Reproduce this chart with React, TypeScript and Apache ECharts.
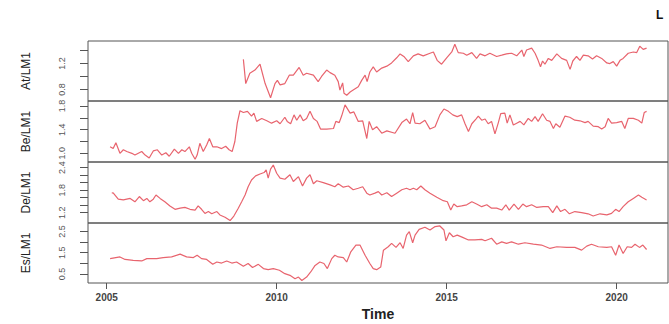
import React, { useEffect, useRef } from "react";
import * as echarts from "echarts";

// ---- data (decimal year, value) ----
const atData: number[][] = [
  [2009.02,1.265],[2009.09,0.89],[2009.21,1.05],[2009.36,1.10],[2009.51,1.19],[2009.66,0.89],[2009.82,0.67],[2009.95,0.89],
  [2010.02,0.94],[2010.10,0.87],[2010.24,0.89],[2010.37,1.02],[2010.49,1.02],[2010.66,1.14],[2010.78,1.02],[2010.88,1.05],
  [2011.08,1.02],[2011.22,0.92],[2011.32,1.00],[2011.47,1.10],[2011.57,1.06],[2011.71,1.02],[2011.81,0.92],[2011.86,0.79],
  [2011.94,0.90],[2011.98,0.74],[2012.06,0.71],[2012.16,0.76],[2012.25,0.79],[2012.40,0.84],[2012.50,0.94],[2012.60,1.02],
  [2012.66,0.92],[2012.74,1.07],[2012.84,1.15],[2012.94,1.07],[2013.09,1.13],[2013.24,1.16],[2013.38,1.21],[2013.53,1.29],
  [2013.63,1.35],[2013.74,1.31],[2013.87,1.23],[2014.02,1.32],[2014.16,1.35],[2014.31,1.32],[2014.51,1.36],[2014.61,1.38],
  [2014.72,1.25],[2014.85,1.19],[2015.00,1.29],[2015.15,1.38],[2015.24,1.50],[2015.34,1.37],[2015.49,1.36],[2015.59,1.33],
  [2015.74,1.37],[2015.88,1.28],[2015.98,1.35],[2016.13,1.32],[2016.27,1.36],[2016.47,1.31],[2016.62,1.33],[2016.76,1.35],
  [2016.91,1.36],[2017.06,1.32],[2017.21,1.41],[2017.27,1.31],[2017.35,1.41],[2017.50,1.44],[2017.60,1.36],[2017.69,1.25],
  [2017.76,1.15],[2017.82,1.24],[2017.89,1.19],[2017.99,1.28],[2018.09,1.25],[2018.24,1.35],[2018.38,1.28],[2018.53,1.25],
  [2018.63,1.11],[2018.71,1.24],[2018.82,1.31],[2018.92,1.25],[2019.02,1.33],[2019.16,1.32],[2019.29,1.27],[2019.41,1.32],
  [2019.56,1.28],[2019.71,1.21],[2019.80,1.20],[2019.90,1.23],[2020.00,1.16],[2020.10,1.25],[2020.19,1.28],[2020.34,1.36],
  [2020.49,1.38],[2020.59,1.37],[2020.68,1.47],[2020.78,1.42],[2020.88,1.44],
];

const beData: number[][] = [
  [2005.10,1.11],[2005.19,1.08],[2005.27,1.18],[2005.39,1.00],[2005.49,1.06],[2005.59,1.03],[2005.74,1.00],[2005.83,0.97],
  [2005.93,1.00],[2006.03,1.03],[2006.13,0.97],[2006.25,0.92],[2006.37,1.04],[2006.49,1.06],[2006.62,0.97],[2006.74,1.01],
  [2006.84,0.95],[2006.99,1.07],[2007.11,1.00],[2007.21,1.06],[2007.30,1.03],[2007.43,1.11],[2007.50,1.00],[2007.60,0.90],
  [2007.66,0.97],[2007.74,1.17],[2007.84,1.03],[2007.94,1.14],[2008.02,1.25],[2008.12,1.11],[2008.24,1.11],[2008.38,1.08],
  [2008.50,1.12],[2008.60,1.06],[2008.69,1.03],[2008.77,1.20],[2008.84,1.51],[2008.92,1.72],[2009.02,1.69],[2009.14,1.71],
  [2009.26,1.63],[2009.33,1.68],[2009.41,1.54],[2009.56,1.59],[2009.71,1.55],[2009.85,1.51],[2010.00,1.55],[2010.10,1.50],
  [2010.24,1.61],[2010.31,1.54],[2010.41,1.50],[2010.51,1.65],[2010.59,1.56],[2010.69,1.65],[2010.78,1.55],[2010.88,1.59],
  [2010.98,1.71],[2011.08,1.59],[2011.19,1.54],[2011.29,1.41],[2011.47,1.41],[2011.67,1.42],[2011.74,1.54],[2011.84,1.52],
  [2011.91,1.63],[2012.01,1.82],[2012.16,1.68],[2012.27,1.70],[2012.40,1.54],[2012.53,1.55],[2012.65,1.25],[2012.72,1.54],
  [2012.82,1.40],[2012.94,1.45],[2013.09,1.34],[2013.24,1.38],[2013.48,1.34],[2013.68,1.52],[2013.82,1.58],[2013.92,1.50],
  [2014.00,1.69],[2014.07,1.51],[2014.21,1.50],[2014.36,1.56],[2014.51,1.41],[2014.66,1.45],[2014.80,1.65],[2014.92,1.75],
  [2015.05,1.71],[2015.18,1.65],[2015.31,1.62],[2015.44,1.65],[2015.54,1.50],[2015.64,1.37],[2015.74,1.50],[2015.86,1.58],
  [2015.93,1.63],[2016.03,1.56],[2016.13,1.58],[2016.22,1.50],[2016.32,1.54],[2016.42,1.33],[2016.52,1.52],[2016.59,1.67],
  [2016.71,1.68],[2016.78,1.51],[2016.86,1.65],[2016.96,1.48],[2017.06,1.51],[2017.16,1.54],[2017.27,1.48],[2017.40,1.59],
  [2017.50,1.54],[2017.60,1.62],[2017.69,1.54],[2017.82,1.67],[2017.94,1.56],[2018.04,1.54],[2018.14,1.42],[2018.21,1.50],
  [2018.33,1.44],[2018.48,1.63],[2018.62,1.61],[2018.77,1.56],[2018.92,1.55],[2019.07,1.52],[2019.16,1.54],[2019.31,1.46],
  [2019.46,1.45],[2019.56,1.41],[2019.66,1.45],[2019.75,1.59],[2019.85,1.51],[2020.00,1.52],[2020.15,1.54],[2020.24,1.42],
  [2020.34,1.59],[2020.49,1.59],[2020.64,1.56],[2020.74,1.51],[2020.81,1.69],[2020.88,1.71],
];

const deData: number[][] = [
  [2005.15,1.72],[2005.19,1.73],[2005.34,1.56],[2005.49,1.54],[2005.69,1.58],[2005.83,1.49],[2005.96,1.63],[2006.08,1.52],
  [2006.18,1.58],[2006.27,1.49],[2006.37,1.56],[2006.45,1.67],[2006.57,1.58],[2006.71,1.49],[2006.86,1.38],[2007.01,1.29],
  [2007.16,1.32],[2007.30,1.34],[2007.45,1.29],[2007.60,1.27],[2007.69,1.38],[2007.79,1.29],[2007.89,1.18],[2007.99,1.23],
  [2008.09,1.17],[2008.24,1.23],[2008.33,1.14],[2008.48,1.08],[2008.63,0.99],[2008.74,1.11],[2008.87,1.32],[2008.97,1.49],
  [2009.07,1.67],[2009.16,1.89],[2009.26,2.07],[2009.38,2.18],[2009.51,2.23],[2009.63,2.27],[2009.69,2.34],[2009.75,2.12],
  [2009.82,2.36],[2009.90,2.47],[2010.00,2.25],[2010.10,2.12],[2010.24,2.09],[2010.39,2.21],[2010.49,2.03],[2010.64,2.16],
  [2010.76,1.91],[2010.88,2.12],[2010.98,2.21],[2011.08,1.97],[2011.18,2.05],[2011.37,2.00],[2011.57,1.94],[2011.71,1.89],
  [2011.81,1.97],[2011.96,1.88],[2012.11,1.91],[2012.25,1.81],[2012.40,1.85],[2012.53,1.89],[2012.65,1.72],[2012.74,1.67],
  [2012.89,1.72],[2012.99,1.76],[2013.09,1.67],[2013.24,1.73],[2013.38,1.63],[2013.53,1.72],[2013.68,1.81],[2013.82,1.85],
  [2013.92,1.81],[2014.02,1.85],[2014.12,1.81],[2014.24,1.91],[2014.36,1.81],[2014.51,1.72],[2014.71,1.61],[2014.90,1.52],
  [2015.02,1.49],[2015.12,1.27],[2015.21,1.43],[2015.31,1.36],[2015.44,1.38],[2015.59,1.41],[2015.74,1.49],[2015.88,1.43],
  [2016.03,1.36],[2016.18,1.41],[2016.32,1.32],[2016.47,1.32],[2016.62,1.27],[2016.74,1.41],[2016.84,1.27],[2016.98,1.43],
  [2017.11,1.29],[2017.24,1.43],[2017.35,1.36],[2017.50,1.41],[2017.65,1.34],[2017.84,1.36],[2017.99,1.36],[2018.12,1.20],
  [2018.24,1.38],[2018.35,1.23],[2018.48,1.29],[2018.61,1.17],[2018.77,1.23],[2018.97,1.20],[2019.16,1.17],[2019.31,1.11],
  [2019.51,1.17],[2019.71,1.14],[2019.85,1.18],[2019.97,1.29],[2020.07,1.23],[2020.19,1.36],[2020.34,1.49],[2020.49,1.58],
  [2020.64,1.67],[2020.74,1.61],[2020.88,1.54],
];

const esData: number[][] = [
  [2005.10,1.22],[2005.39,1.30],[2005.54,1.18],[2005.78,1.14],[2006.03,1.11],[2006.18,1.22],[2006.47,1.22],[2006.66,1.27],
  [2006.91,1.30],[2007.16,1.43],[2007.35,1.30],[2007.55,1.27],[2007.66,1.38],[2007.79,1.22],[2007.94,1.18],[2008.12,0.95],
  [2008.24,1.06],[2008.38,1.01],[2008.53,1.11],[2008.68,1.01],[2008.82,1.06],[2009.02,0.86],[2009.16,0.99],[2009.29,0.80],
  [2009.46,0.95],[2009.61,0.75],[2009.75,0.70],[2009.90,0.75],[2010.08,0.67],[2010.24,0.51],[2010.39,0.43],[2010.54,0.27],
  [2010.64,0.35],[2010.74,0.19],[2010.88,0.35],[2011.00,0.59],[2011.13,0.90],[2011.27,1.06],[2011.39,0.99],[2011.49,0.75],
  [2011.62,1.22],[2011.71,1.38],[2011.81,1.30],[2011.96,1.27],[2012.06,1.06],[2012.18,1.54],[2012.33,1.86],[2012.45,1.86],
  [2012.60,1.38],[2012.74,0.99],[2012.84,0.75],[2012.94,0.70],[2013.06,0.82],[2013.14,1.62],[2013.28,1.78],[2013.38,1.94],
  [2013.51,1.75],[2013.63,1.97],[2013.72,1.70],[2013.82,2.33],[2013.90,2.49],[2014.00,1.97],[2014.07,2.33],[2014.19,2.60],
  [2014.36,2.70],[2014.51,2.57],[2014.66,2.73],[2014.80,2.76],[2014.92,2.57],[2014.98,2.06],[2015.08,2.44],[2015.19,2.25],
  [2015.31,2.33],[2015.47,2.22],[2015.64,2.10],[2015.83,2.10],[2016.03,2.13],[2016.13,2.06],[2016.32,2.18],[2016.47,1.90],
  [2016.62,2.01],[2016.76,1.94],[2016.91,2.01],[2017.11,1.90],[2017.30,1.97],[2017.55,1.90],[2017.79,1.86],[2018.04,1.70],
  [2018.24,1.78],[2018.53,1.75],[2018.77,1.75],[2018.97,1.62],[2019.12,1.81],[2019.26,1.90],[2019.46,1.78],[2019.71,1.75],
  [2019.85,1.78],[2019.97,1.38],[2020.07,1.86],[2020.19,1.46],[2020.31,1.78],[2020.44,1.75],[2020.54,1.90],[2020.67,1.75],
  [2020.77,1.86],[2020.88,1.65],
];

const seriesNames = ["At/LM1", "Be/LM1", "De/LM1", "Es/LM1"];
const seriesData = [atData, beData, deData, esData];
const yMins = [0.62, 0.853, 0.925, 0.07];
const yMaxs = [1.55, 1.885, 2.55, 2.9];
const yTicks = [
  [0.8, 1.0, 1.2, 1.4],
  [1.0, 1.2, 1.4, 1.6, 1.8],
  [1.2, 1.4, 1.6, 1.8, 2.0, 2.2, 2.4],
  [0.5, 1.0, 1.5, 2.0, 2.5],
];
const yTickLabels = [
  [0.8, 1.2],
  [1.0, 1.4, 1.8],
  [1.2, 1.8, 2.4],
  [0.5, 1.5, 2.5],
];
const xTicks = [2005, 2010, 2015, 2020];
const xMin = 2004.45;
const xMax = 2021.51;

const FONT = "'Liberation Sans', Arial, Helvetica, sans-serif";
const gridTops = [41, 101, 162, 223];
const gridHeights = [60, 61, 61, 60];

export default function App() {
  const ref = useRef<HTMLDivElement>(null);
  useEffect(() => {
    if (!ref.current) return;
    const chart = echarts.init(ref.current, null, { renderer: "svg" });
    const grids = gridTops.map((top, i) => ({
      left: 88,
      width: 580,
      top,
      height: gridHeights[i],
      show: true,
      borderColor: "#555",
      borderWidth: 1,
      backgroundColor: "transparent",
    }));
    const xAxes = gridTops.map((_, i) => {
      const last = i === gridTops.length - 1;
      return {
        type: "value",
        gridIndex: i,
        min: xMin,
        max: xMax,
        show: true,
        name: last ? "Time" : "",
        nameLocation: "middle",
        nameGap: 24,
        nameTextStyle: { fontFamily: FONT, fontSize: 14, fontWeight: "bold", color: "#222" },
        axisLine: { show: false },
        splitLine: { show: false },
        axisTick: {
          show: last,
          length: 6,
          customValues: xTicks,
          lineStyle: { color: "#555" },
        },
        axisLabel: {
          show: last,
          customValues: xTicks,
          margin: 9,
          fontFamily: FONT,
          fontSize: 10,
          fontWeight: "bold",
          color: "#444",
          formatter: (v: number) => String(Math.round(v)),
        },
      };
    });
    const yAxes = gridTops.map((_, i) => ({
      type: "value",
      gridIndex: i,
      min: yMins[i],
      max: yMaxs[i],
      name: seriesNames[i],
      nameLocation: "middle",
      nameRotate: 90,
      nameGap: 56,
      nameTextStyle: { fontFamily: FONT, fontSize: 12, color: "#222" },
      axisLine: { show: false },
      splitLine: { show: false },
      axisTick: {
        show: true,
        length: 8,
        customValues: yTicks[i],
        lineStyle: { color: "#555" },
      },
      axisLabel: {
        show: true,
        customValues: yTickLabels[i],
        rotate: 90,
        margin: 22,
        fontFamily: FONT,
        fontSize: 9,
        color: "#555",
        formatter: (v: number) => v.toFixed(1),
      },
    }));
    const series = seriesData.map((d, i) => ({
      type: "line",
      name: seriesNames[i],
      xAxisIndex: i,
      yAxisIndex: i,
      data: d,
      showSymbol: false,
      symbol: "none",
      lineStyle: { color: "#e8646e", width: 1.2 },
    }));
    chart.setOption({
      animation: false,
      backgroundColor: "#ffffff",
      grid: grids,
      xAxis: xAxes,
      yAxis: yAxes,
      series,
      graphic: [
        {
          type: "text",
          left: 656,
          top: 9,
          style: { text: "L", fontFamily: FONT, fontSize: 12, fontWeight: "bold", fill: "#111" },
        },
      ],
    });
    return () => chart.dispose();
  }, []);
  return (
    <div
      ref={ref}
      style={{ position: "fixed", left: 0, top: 0, width: 669, height: 324, background: "#fff" }}
    />
  );
}
